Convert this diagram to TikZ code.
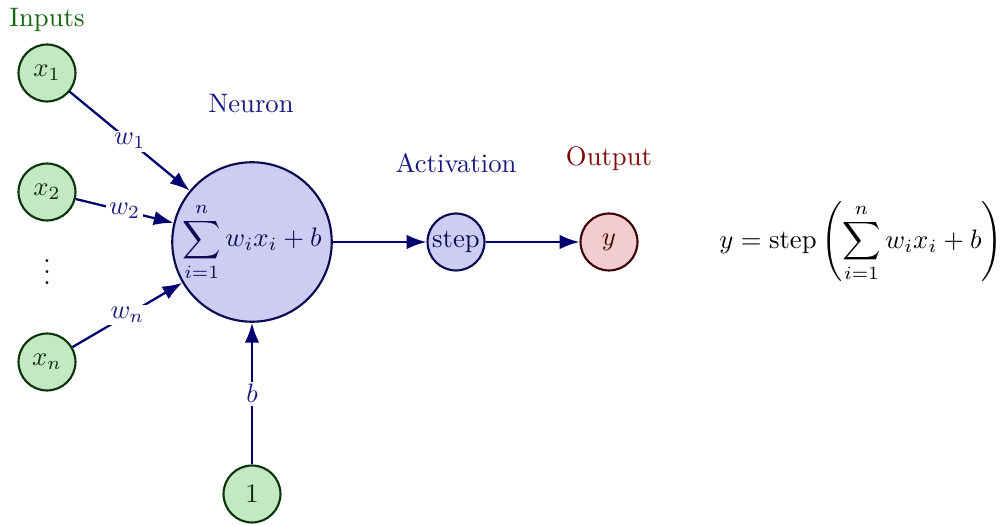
\documentclass[tikz,border=0pt]{standalone}
\usetikzlibrary{arrows.meta}
\definecolor{infill}{RGB}{195,232,195}
\definecolor{indraw}{RGB}{12,52,12}
\definecolor{intext}{RGB}{15,100,15}
\definecolor{nfill}{RGB}{205,205,243}
\definecolor{ndraw}{RGB}{10,10,80}
\definecolor{ntext}{RGB}{25,25,130}
\definecolor{ofill}{RGB}{243,205,205}
\definecolor{odraw}{RGB}{60,5,5}
\definecolor{otext}{RGB}{125,10,10}
\definecolor{wire}{RGB}{0,0,110}
\begin{document}
\begin{tikzpicture}[x=0.013175cm,y=-0.013175cm,
  innode/.style={circle,draw=indraw,fill=infill,thick,inner sep=0pt,minimum size=0.75cm,text=indraw!80!black},
  sumnode/.style={circle,draw=ndraw,fill=nfill,thick,inner sep=0pt,minimum size=2.1cm,text=ndraw},
  actnode/.style={circle,draw=ndraw,fill=nfill,thick,inner sep=0pt,minimum size=0.75cm,text=ndraw},
  outnode/.style={circle,draw=odraw,fill=ofill,thick,inner sep=0pt,minimum size=0.75cm,text=odraw},
  wirearrow/.style={draw=wire,line width=0.85pt,-{Latex[length=2.6mm,width=1.9mm]}},
  wlabel/.style={fill=white,inner sep=1pt,text=ntext,midway}]
\useasboundingbox (0,0) rectangle (1000,525);

% inputs
\node[innode] (x1) at (47,73) {$x_1$};
\node[innode] (x2) at (47,192) {$x_2$};
\node (dots) at (47,264) {$\vdots$};
\node[innode] (xn) at (47,362) {$x_n$};
\node[innode] (one) at (252,494) {$1$};

% neuron, activation, output
\node[sumnode] (sum) at (252,242) {$\displaystyle\sum_{i=1}^{n} w_i x_i + b$};
\node[actnode] (act) at (456,242) {step};
\node[outnode] (out) at (609,242) {$y$};

% group titles
\node[text=intext] (tin) at (47,20) {Inputs};
\node[text=ntext] (tneuron) at (251,104) {Neuron};
\node[text=ntext] (tact) at (456,163) {Activation};
\node[text=otext] (tout) at (609,159) {Output};

% weighted connections
\draw[wirearrow] (x1) -- node[wlabel] {$w_1$} (sum);
\draw[wirearrow] (x2) -- node[wlabel] {$w_2$} (sum);
\draw[wirearrow] (xn) -- node[wlabel] {$w_n$} (sum);
\draw[wirearrow] (one) -- node[wlabel] {$b$} (sum);
\draw[wirearrow] (sum) -- (act);
\draw[wirearrow] (act) -- (out);

% formula
\node (eq) at (861,242) {$y = \mathrm{step}\left(\displaystyle\sum_{i=1}^{n} w_i x_i + b\right)$};
\end{tikzpicture}
\end{document}
